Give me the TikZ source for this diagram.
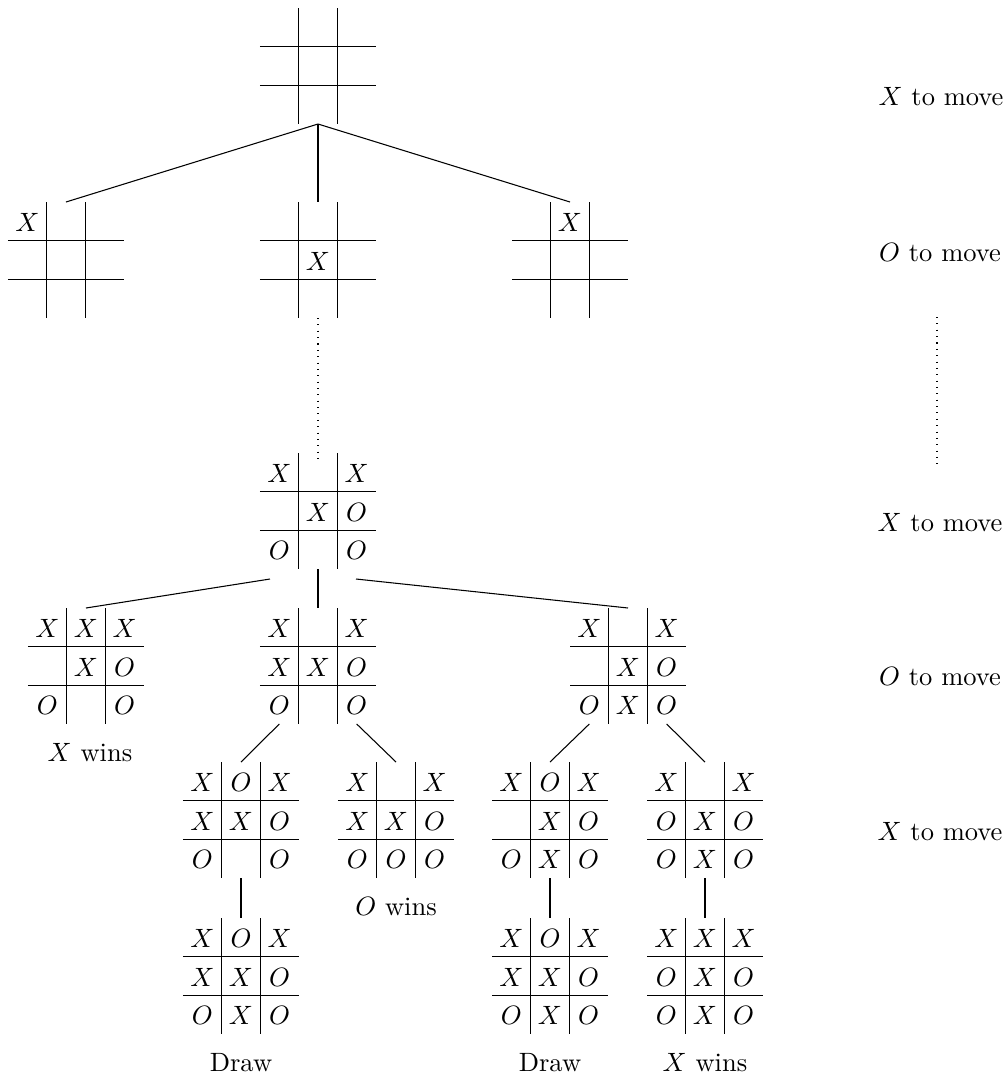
\documentclass[tikz,border=0pt]{standalone}
\usetikzlibrary{calc}
\tikzset{
  board/.style={rectangle,minimum width=43.77pt,minimum height=43.77pt,inner sep=0pt,outer sep=0pt},
  gridl/.style={line width=0.4pt},
  cell/.style={inner sep=0pt,outer sep=0pt,font=\fontsize{10}{12}\selectfont},
  lab/.style={inner sep=0pt,font=\fontsize{10}{12}\selectfont},
  tedge/.style={line width=0.4pt},
  dedge/.style={line width=0.4pt,dotted}
}
\newcommand\tttboard[3]{%
  \node[board] (#1) at #2 {};
  \draw[gridl] ($(#1.north)+(-19.35,0)$) -- ($(#1.south)+(-19.35,0)$);
  \draw[gridl] ($(#1.north)+(19.35,0)$) -- ($(#1.south)+(19.35,0)$);
  \draw[gridl] ($(#1.west)+(0,-19.35)$) -- ($(#1.east)+(0,-19.35)$);
  \draw[gridl] ($(#1.west)+(0,19.35)$) -- ($(#1.east)+(0,19.35)$);
  \foreach \cc [count=\ii from 0] in {#3} {
    \pgfmathtruncatemacro\tcol{mod(\ii,3)-1}
    \pgfmathtruncatemacro\trow{div(\ii,3)-1}
    \if\cc-\else
      \node[cell] (#1-\ii) at ($(#1)+(\tcol*38.7,\trow*38.7+1)$) {$\cc$};
    \fi
  }
}
\begin{document}
\begin{tikzpicture}[x=0.3773pt,y=-0.3773pt]
\useasboundingbox (0,0) rectangle (1008,1077);
% level 0
\tttboard{R}{(318,66)}{-,-,-,-,-,-,-,-,-}
% level 1
\tttboard{A}{(66,260)}{X,-,-,-,-,-,-,-,-}
\tttboard{B}{(318,260)}{-,-,-,-,X,-,-,-,-}
\tttboard{C}{(570,260)}{-,X,-,-,-,-,-,-,-}
% level 3
\tttboard{D}{(318,511)}{X,-,X,-,X,O,O,-,O}
% level 4
\tttboard{E}{(86,666)}{X,X,X,-,X,O,O,-,O}
\tttboard{F}{(318,666)}{X,-,X,X,X,O,O,-,O}
\tttboard{G}{(628,666)}{X,-,X,-,X,O,O,X,O}
% level 5
\tttboard{H}{(241,820)}{X,O,X,X,X,O,O,-,O}
\tttboard{I}{(396,820)}{X,-,X,X,X,O,O,O,O}
\tttboard{J}{(550,820)}{X,O,X,-,X,O,O,X,O}
\tttboard{K}{(705,820)}{X,-,X,O,X,O,O,X,O}
% level 6
\tttboard{L}{(241,976)}{X,O,X,X,X,O,O,X,O}
\tttboard{M}{(550,976)}{X,O,X,X,X,O,O,X,O}
\tttboard{N}{(705,976)}{X,X,X,O,X,O,O,X,O}
% edges
\draw[tedge] (R.south) -- (A.north);
\draw[tedge] (R.south) -- (B.north);
\draw[tedge] (R.south) -- (C.north);
\draw[dedge] (B.south) -- ($(D.north)+(0,10)$);
\draw[tedge] ($(D.south west)+(10,10)$) -- (E.north);
\draw[tedge] (D.south) -- (F.north);
\draw[tedge] ($(D.south)+(38,10)$) -- (G.north);
\draw[tedge] ($(F.south)+(-38.7,0)$) -- (H.north);
\draw[tedge] ($(F.south)+(38.7,0)$) -- (I.north);
\draw[tedge] ($(G.south)+(-38.7,0)$) -- (J.north);
\draw[tedge] ($(G.south)+(38.7,0)$) -- (K.north);
\draw[tedge] (H.south) -- (L.north);
\draw[tedge] (J.south) -- (M.north);
\draw[tedge] (K.south) -- (N.north);
% outcome labels
\node[lab] (wE) at ($(E.south)+(4,29)$) {$X$ wins};
\node[lab] (wI) at ($(I.south)+(0,29)$) {$O$ wins};
\node[lab] (wL) at ($(L.south)+(0,29)$) {Draw};
\node[lab] (wM) at ($(M.south)+(0,29)$) {Draw};
\node[lab] (wN) at ($(N.south)+(0,29)$) {$X$ wins};
% side labels
\node[lab] (s0) at (941,97) {$X$ to move};
\node[lab] (s1) at (940,253) {$O$ to move};
\coordinate (d0) at (937,317);
\coordinate (d1) at (937,465);
\draw[dedge] (d0) -- (d1);
\node[lab] (s2) at (940,523) {$X$ to move};
\node[lab] (s3) at (940,677) {$O$ to move};
\node[lab] (s4) at (940,832) {$X$ to move};
\end{tikzpicture}
\end{document}
